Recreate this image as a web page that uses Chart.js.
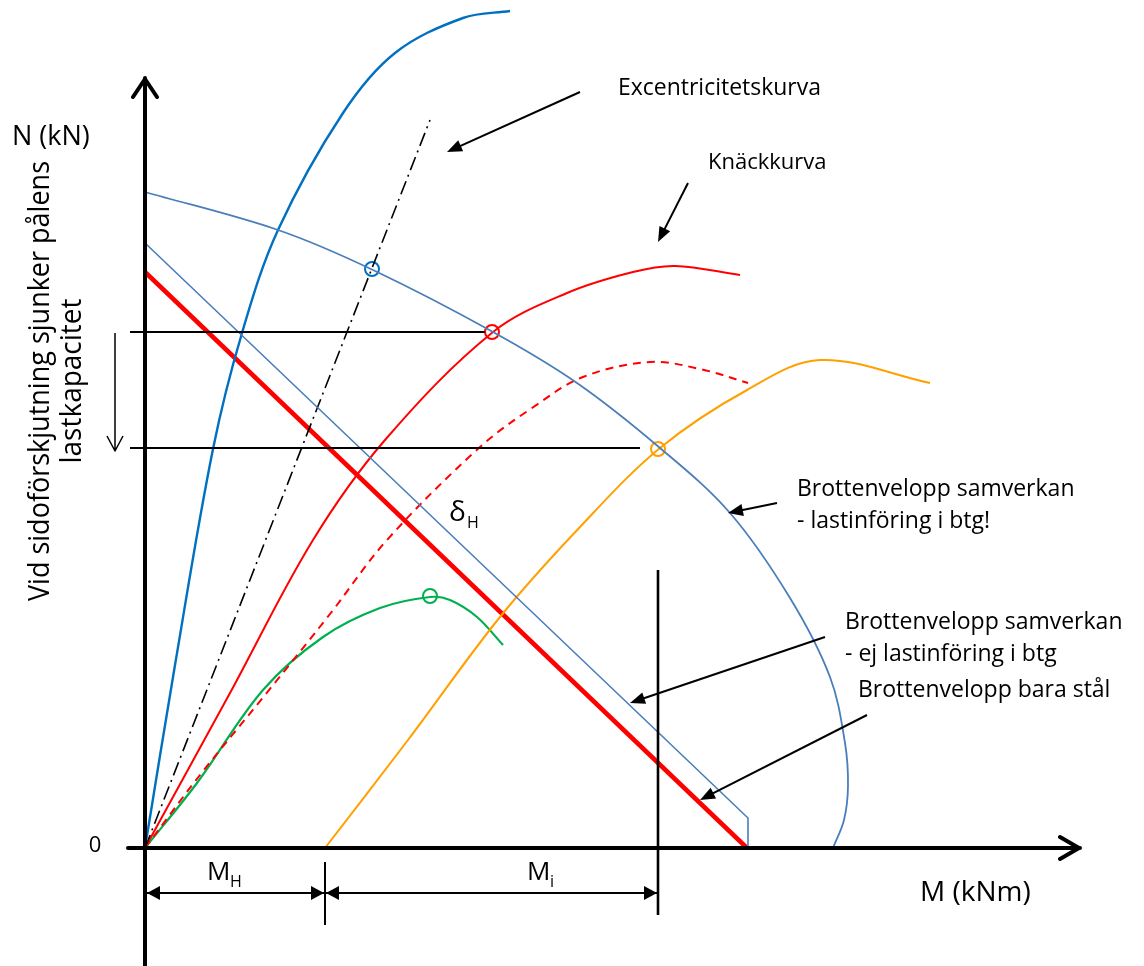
<!DOCTYPE html>
<html>
<head>
<meta charset="utf-8">
<script src="https://cdn.jsdelivr.net/npm/chart.js@4/dist/chart.umd.min.js"></script>
<style>
  html, body { margin: 0; padding: 0; background: #fff; }
  #wrap { width: 1144px; height: 966px; }
</style>
</head>
<body>
<div id="wrap"><canvas id="nmChart"></canvas></div>
<script>
// schematic M-N diagram ([M, N] pairs, arbitrary units)
const initialCurve   = [[0,0],[30,183],[68,399],[97,515],[133,618],[198,735],[250,795],[318,830],[365,837]];
const eccentricity   = [[0,0],[285,728]];
const envelopeLoad   = [[0,656],[133,618],[228,578],[348,516],[432,465],[515,400],[585,335],[645,250],[685,171],[700,105],[703,62],[699,28],[688,0]];
const envelopeNoLoad = [[0,605],[603,30],[603,0]];
const envelopeSteel  = [[0,576],[602,0]];
const bucklingCurve  = [[0,0],[85,155],[168,308],[240,408],[348,516],[422,555],[488,576],[530,582],[595,573]];
const bucklingDashed = [[0,0],[55,73],[120,153],[185,234],[242,308],[335,401],[387,440],[438,471],[505,486],[555,479],[603,465]];
const greenCurve     = [[0,0],[52,65],[118,158],[178,211],[235,240],[285,251],[305,248],[332,231],[358,203]];
const shiftedCurve   = [[180,0],[263,108],[355,231],[435,321],[515,400],[602,458],[675,488],[785,465]];

const hitBlue   = [[227,579]];
const hitRed    = [[347,516]];
const hitOrange = [[513,399]];
const hitGreen  = [[285,252]];

const levelHigh = [[-15,516],[340,516]];
const levelLow  = [[-15,400],[495,400]];
const miLine    = [[513,278],[513,-67]];

const mH = 180;   // M_H
const mI = 513;   // M_H + M_i

const pts = a => a.map(p => ({ x: p[0], y: p[1] }));

function curve(data, color, width, extra) {
  return Object.assign({
    data: pts(data), showLine: true, borderColor: color, borderWidth: width,
    pointRadius: 0, tension: 0.35, fill: false
  }, extra || {});
}
function marker(data, color) {
  return {
    data: pts(data), showLine: false, pointRadius: 7, pointStyle: 'circle',
    pointBorderWidth: 2, pointBorderColor: color, pointBackgroundColor: 'rgba(0,0,0,0)'
  };
}

const font = "'Open Sans', 'DejaVu Sans', sans-serif";

function arrowHead(ctx, x1, y1, x2, y2, len, half) {
  const a = Math.atan2(y2 - y1, x2 - x1);
  ctx.beginPath();
  ctx.moveTo(x2, y2);
  ctx.lineTo(x2 - len * Math.cos(a) + half * Math.sin(a), y2 - len * Math.sin(a) - half * Math.cos(a));
  ctx.lineTo(x2 - len * Math.cos(a) - half * Math.sin(a), y2 - len * Math.sin(a) + half * Math.cos(a));
  ctx.closePath();
  ctx.fill();
}

const decor = {
  id: 'decor',
  afterDatasetsDraw(chart) {
    const ctx = chart.ctx;
    const X = v => chart.scales.x.getPixelForValue(v);
    const Y = v => chart.scales.y.getPixelForValue(v);
    ctx.save();
    ctx.strokeStyle = '#000';
    ctx.fillStyle = '#000';

    // axes
    ctx.lineWidth = 4;
    ctx.lineCap = 'round';
    ctx.lineJoin = 'round';
    ctx.beginPath();
    ctx.moveTo(X(0), 966); ctx.lineTo(X(0), Y(770));
    ctx.moveTo(X(-12), Y(751)); ctx.lineTo(X(0), Y(769)); ctx.lineTo(X(12), Y(751));
    ctx.moveTo(X(-17), Y(0)); ctx.lineTo(X(935), Y(0));
    ctx.moveTo(X(915), Y(11)); ctx.lineTo(X(934), Y(0)); ctx.lineTo(X(915), Y(-11));
    ctx.stroke();

    // downward arrow on the left
    ctx.lineWidth = 1.5;
    ctx.lineCap = 'butt';
    ctx.beginPath();
    ctx.moveTo(X(-30), Y(515)); ctx.lineTo(X(-30), Y(398));
    ctx.moveTo(X(-38), Y(412)); ctx.lineTo(X(-30), Y(397)); ctx.lineTo(X(-22), Y(412));
    ctx.stroke();

    // M_H / M_i dimension lines
    ctx.lineWidth = 2;
    ctx.beginPath();
    ctx.moveTo(X(mH), Y(-14)); ctx.lineTo(X(mH), Y(-77));
    ctx.moveTo(X(0), Y(-45)); ctx.lineTo(X(mI), Y(-45));
    ctx.stroke();
    const dy = Y(-45);
    arrowHead(ctx, X(30), dy, X(0) + 2, dy, 13, 7);
    arrowHead(ctx, X(150), dy, X(mH) - 1, dy, 13, 7);
    arrowHead(ctx, X(210), dy, X(mH) + 1, dy, 13, 7);
    arrowHead(ctx, X(480), dy, X(mI) - 1, dy, 13, 7);

    // pointer arrows to the labels
    const pointers = [
      [[435,756],[302,696]],
      [[543,665],[513,606]],
      [[632,345],[583,335]],
      [[680,211],[485,145]],
      [[722,133],[555,48]]
    ];
    ctx.lineWidth = 2;
    pointers.forEach(p => {
      const x1 = X(p[0][0]), y1 = Y(p[0][1]), x2 = X(p[1][0]), y2 = Y(p[1][1]);
      const a = Math.atan2(y2 - y1, x2 - x1);
      ctx.beginPath();
      ctx.moveTo(x1, y1);
      ctx.lineTo(x2 - 10 * Math.cos(a), y2 - 10 * Math.sin(a));
      ctx.stroke();
      arrowHead(ctx, x1, y1, x2, y2, 15, 6);
    });

    // texts
    ctx.textBaseline = 'middle';
    ctx.textAlign = 'left';
    const labels = [
      ['Excentricitetskurva', 618, 88, 203, 23],
      ['Knäckkurva', 708, 163, 121, 22],
      ['Brottenvelopp samverkan', 797, 489, 278, 23],
      ['- lastinföring i btg!', 797, 521, 196, 23],
      ['Brottenvelopp samverkan', 845, 622, 279, 23],
      ['- ej lastinföring i btg', 845, 654, 213, 23],
      ['Brottenvelopp bara stål', 858, 690, 284, 23],
      ['N (kN)', 12, 137, 80, 27],
      ['M (kNm)', 920, 893, 113, 28]
    ];
    labels.forEach(l => {
      ctx.font = l[4] + 'px ' + font;
      ctx.fillText(l[0], l[1], l[2], l[3]);
    });
    ctx.textAlign = 'center';
    ctx.font = '22px ' + font;
    ctx.fillText('0', 95, 846);

    ctx.textAlign = 'left';
    ctx.font = '28px ' + font;
    ctx.fillText('δ', 449, 513);
    ctx.font = '26px ' + font;
    ctx.fillText('M', 207, 873);
    ctx.fillText('M', 527, 873);
    ctx.font = '16px ' + font;
    ctx.fillText('H', 467, 523);
    ctx.fillText('H', 230, 882);
    ctx.fillText('i', 550, 882);

    ctx.textAlign = 'center';
    ctx.font = '30px ' + font;
    ctx.save();
    ctx.translate(40, 381);
    ctx.rotate(-Math.PI / 2);
    ctx.fillText('Vid sidoförskjutning sjunker pålens', 0, 0, 440);
    ctx.restore();
    ctx.save();
    ctx.translate(72, 381);
    ctx.rotate(-Math.PI / 2);
    ctx.fillText('lastkapacitet', 0, 0, 165);
    ctx.restore();

    ctx.restore();
  }
};

new Chart(document.getElementById('nmChart').getContext('2d'), {
  type: 'scatter',
  data: {
    datasets: [
      curve(levelHigh, '#000', 1.8, { tension: 0 }),
      curve(levelLow, '#000', 1.8, { tension: 0 }),
      curve(miLine, '#000', 2.6, { tension: 0 }),
      curve(envelopeLoad, '#4A7EBB', 1.8),
      curve(envelopeNoLoad, '#4A7EBB', 1.6, { tension: 0 }),
      curve(initialCurve, '#0070C0', 2.4),
      curve(eccentricity, '#000', 1.6, { tension: 0, borderDash: [14, 5, 2, 5] }),
      curve(shiftedCurve, '#FFA000', 2),
      curve(bucklingDashed, '#FF0000', 2, { borderDash: [8, 6] }),
      curve(bucklingCurve, '#FF0000', 2),
      curve(greenCurve, '#00B050', 2.2),
      curve(envelopeSteel, '#FF0000', 4.5, { tension: 0 }),
      marker(hitBlue, '#0070C0'),
      marker(hitRed, '#FF0000'),
      marker(hitOrange, '#FFA000'),
      marker(hitGreen, '#00B050')
    ]
  },
  options: {
    responsive: true,
    maintainAspectRatio: false,
    animation: false,
    layout: { padding: 0, autoPadding: false },
    plugins: { legend: { display: false }, tooltip: { enabled: false } },
    scales: {
      x: { type: 'linear', min: -145, max: 999, display: false },
      y: { type: 'linear', min: -118, max: 848, display: false }
    }
  },
  plugins: [decor]
});
</script>
</body>
</html>
